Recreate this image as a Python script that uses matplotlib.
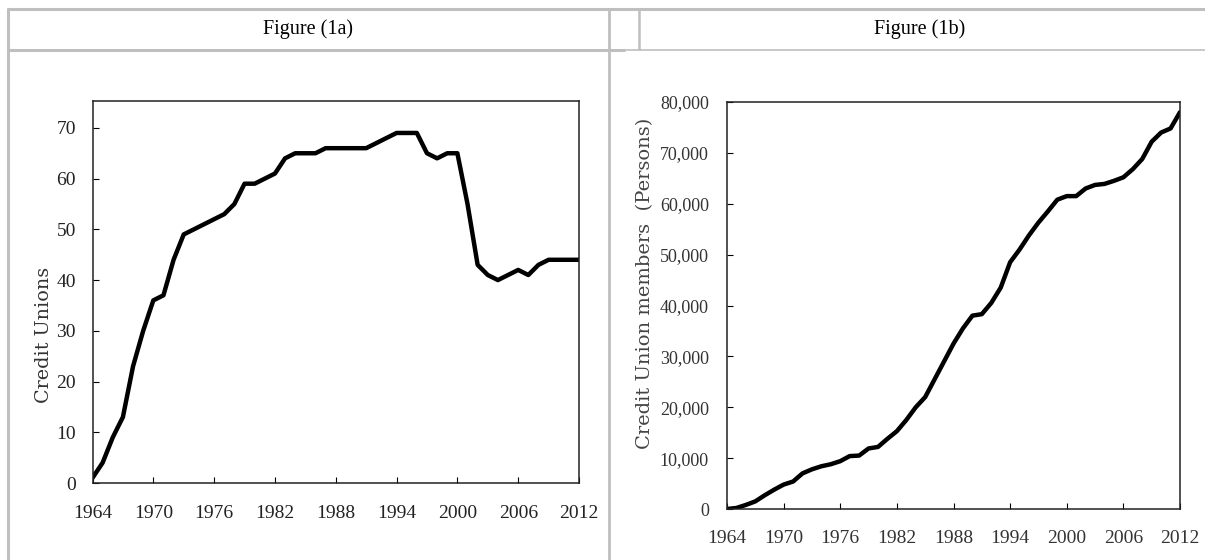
import matplotlib
matplotlib.use('Agg')
import matplotlib.pyplot as plt
from matplotlib.lines import Line2D

years = list(range(1964, 2013))
credit_unions = [1, 4, 9, 13, 23, 30, 36, 37, 44, 49,
                 50, 51, 52, 53, 55, 59, 59, 60, 61, 64,
                 65, 65, 65, 66, 66, 66, 66, 66, 67, 68,
                 69, 69, 69, 65, 64, 65, 65, 55, 43, 41,
                 40, 41, 42, 41, 43, 44, 44, 44, 44]
members = [0, 200, 800, 1500, 2700, 3800, 4800, 5400, 7000, 7800,
           8400, 8800, 9400, 10400, 10500, 11900, 12200, 13800, 15300, 17500,
           20000, 22000, 25500, 29000, 32500, 35500, 38000, 38300, 40500, 43500,
           48500, 51000, 53800, 56300, 58500, 60800, 61500, 61500, 63000, 63700,
           63900, 64500, 65200, 66800, 68800, 72200, 74000, 74800, 78000]
xticks = list(range(1964, 2013, 6))
titles = ['Figure (1a)', 'Figure (1b)']

W, H = 1205, 560
fig = plt.figure(figsize=(W / 100, H / 100), dpi=100)

serif = 'Liberation Serif'
label_font = 'DejaVu Serif'
grey = '#bfbfbf'


def px(x0, y0, x1, y1, lw):
    """Table rule in pixel coords (y from top)."""
    fig.add_artist(Line2D([x0 / W, x1 / W], [1 - y0 / H, 1 - y1 / H],
                          color=grey, lw=lw, solid_capstyle='butt'))


# table rules
px(7, 8.5, W, 8.5, 2.2)
px(7, 50, 625, 50, 2.2)
px(625, 50, W, 50, 1.2)
px(8, 8, 8, H, 2.2)
px(609, 8, 609, H, 2.0)
px(639, 8, 639, 50, 1.8)

fig.text(308 / W, 1 - 29 / H, titles[0], ha='center', va='center',
         family=serif, fontsize=14.5)
fig.text(920 / W, 1 - 29 / H, titles[1], ha='center', va='center',
         family=serif, fontsize=14.5)


def style_axes(ax, fs, tcol, xpad, ypad):
    ax.set_xlim(1964, 2012)
    ax.set_xticks(xticks)
    ax.tick_params(direction='in', length=4, width=0.8, top=False, right=False,
                   labelsize=fs, labelcolor=tcol)
    ax.tick_params(axis='x', pad=xpad)
    ax.tick_params(axis='y', pad=ypad)
    for lab in ax.get_xticklabels() + ax.get_yticklabels():
        lab.set_family(serif)
    for s in ax.spines.values():
        s.set_linewidth(1.1)
        s.set_color('#222222')


ax1 = fig.add_axes([92.5 / W, 1 - 483 / H, 486.5 / W, 382 / H])
ax1.plot(years, credit_unions, color='black', lw=3.2, solid_joinstyle='round')
ax1.set_ylim(0, 75.3)
ax1.set_yticks(range(0, 71, 10))
style_axes(ax1, 14, '#222222', 16, 12)
ax1.set_ylabel('Credit Unions', family=label_font, fontsize=13.8,
               color='#333333')
ax1.yaxis.set_label_coords(-0.082, 0.387)

ax2 = fig.add_axes([727 / W, 1 - 509 / H, 453 / W, 407 / H])
ax2.plot(years, members, color='black', lw=3.2, solid_joinstyle='round',
         solid_capstyle='round')
ax2.set_ylim(0, 80000)
ax2.set_yticks(range(0, 80001, 10000))
ax2.set_yticklabels(['{:,}'.format(v) for v in range(0, 80001, 10000)])
style_axes(ax2, 14, '#333333', 15, 13)
ax2.tick_params(axis='y', labelsize=13)
ax2.set_ylabel('Credit Union members  (Persons)', family=label_font,
               fontsize=14, color='#444444')
ax2.yaxis.set_label_coords(-0.16, 0.555)

fig.savefig('out.png', dpi=100)
